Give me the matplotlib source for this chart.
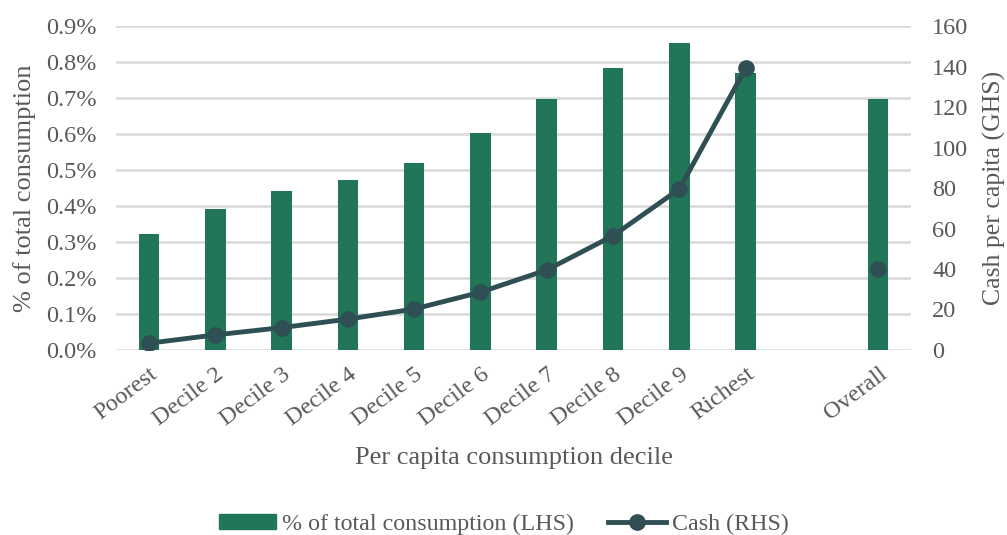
import numpy as np
import matplotlib.pyplot as plt
from matplotlib.ticker import FuncFormatter

# Data
deciles = ['Poorest', 'Decile 2', 'Decile 3', 'Decile 4', 'Decile 5',
           'Decile 6', 'Decile 7', 'Decile 8', 'Decile 9', 'Richest']
overall_label = 'Overall'
share_pct = [0.323, 0.392, 0.441, 0.472, 0.519, 0.603, 0.698, 0.785, 0.852, 0.770]
share_overall = 0.697
cash = [3.3, 7.4, 11.0, 15.2, 20.2, 28.5, 39.5, 56.4, 79.5, 139.1]
cash_overall = 40.0

bar_color = '#217657'
line_color = '#2F4F55'
text_color = '#595959'
grid_color = '#D9D9D9'

plt.rcParams['font.family'] = ['Liberation Serif', 'DejaVu Serif']

fig = plt.figure(figsize=(10.07, 5.35), dpi=100)
ax = fig.add_axes([0.115, 0.346, 0.79, 0.605])
ax2 = ax.twinx()

x = np.arange(len(deciles))
x_overall = len(deciles) + 1

ax.bar(x, share_pct, width=0.31, color=bar_color, zorder=2)
ax.bar([x_overall], [share_overall], width=0.31, color=bar_color, zorder=2)

ax2.plot(x, cash, color=line_color, lw=3.5, marker='o', ms=11, zorder=3)
ax2.plot([x_overall], [cash_overall], color=line_color, lw=0, marker='o', ms=11, zorder=3)

ax.set_xlim(-0.5, x_overall + 0.5)
ax.set_ylim(0, 0.9)
ax2.set_ylim(0, 160)
ax.set_yticks(np.arange(0, 0.91, 0.1))
ax2.set_yticks(np.arange(0, 161, 20))
ax.yaxis.set_major_formatter(FuncFormatter(lambda v, p: f'{v:.1f}%'))

ax.set_xticks(list(x) + [x_overall])
ax.set_xticklabels(deciles + [overall_label], rotation=37, ha='right',
                   rotation_mode='anchor', color=text_color)

ax.grid(axis='y', color=grid_color, lw=1.8, zorder=0)
ax.set_axisbelow(True)
for a in (ax, ax2):
    for s in a.spines.values():
        s.set_visible(False)
    a.tick_params(length=0, colors=text_color, labelsize=17.5)
ax.tick_params(axis='y', pad=14)
ax.tick_params(axis='x', pad=10)
ax2.tick_params(axis='y', pad=15)

ax.set_ylabel('% of total consumption', color=text_color, fontsize=19, labelpad=7)
ax2.set_ylabel('Cash per capita (GHS)', color=text_color, fontsize=18.5, labelpad=10)
ax.set_xlabel('Per capita consumption decile', color=text_color, fontsize=19, labelpad=12)

handles = [plt.Rectangle((0, 0), 1, 1, color=bar_color),
           plt.Line2D([], [], color=line_color, lw=3.5, marker='o', ms=11)]
fig.legend(handles, ['% of total consumption (LHS)', 'Cash (RHS)'],
           loc='lower center', bbox_to_anchor=(0.5, -0.04), ncol=2, frameon=False,
           fontsize=17.3, labelcolor=text_color, handlelength=2.4, handleheight=0.6,
           handletextpad=0.25, columnspacing=1.4)

fig.savefig('out.png', dpi=100)
